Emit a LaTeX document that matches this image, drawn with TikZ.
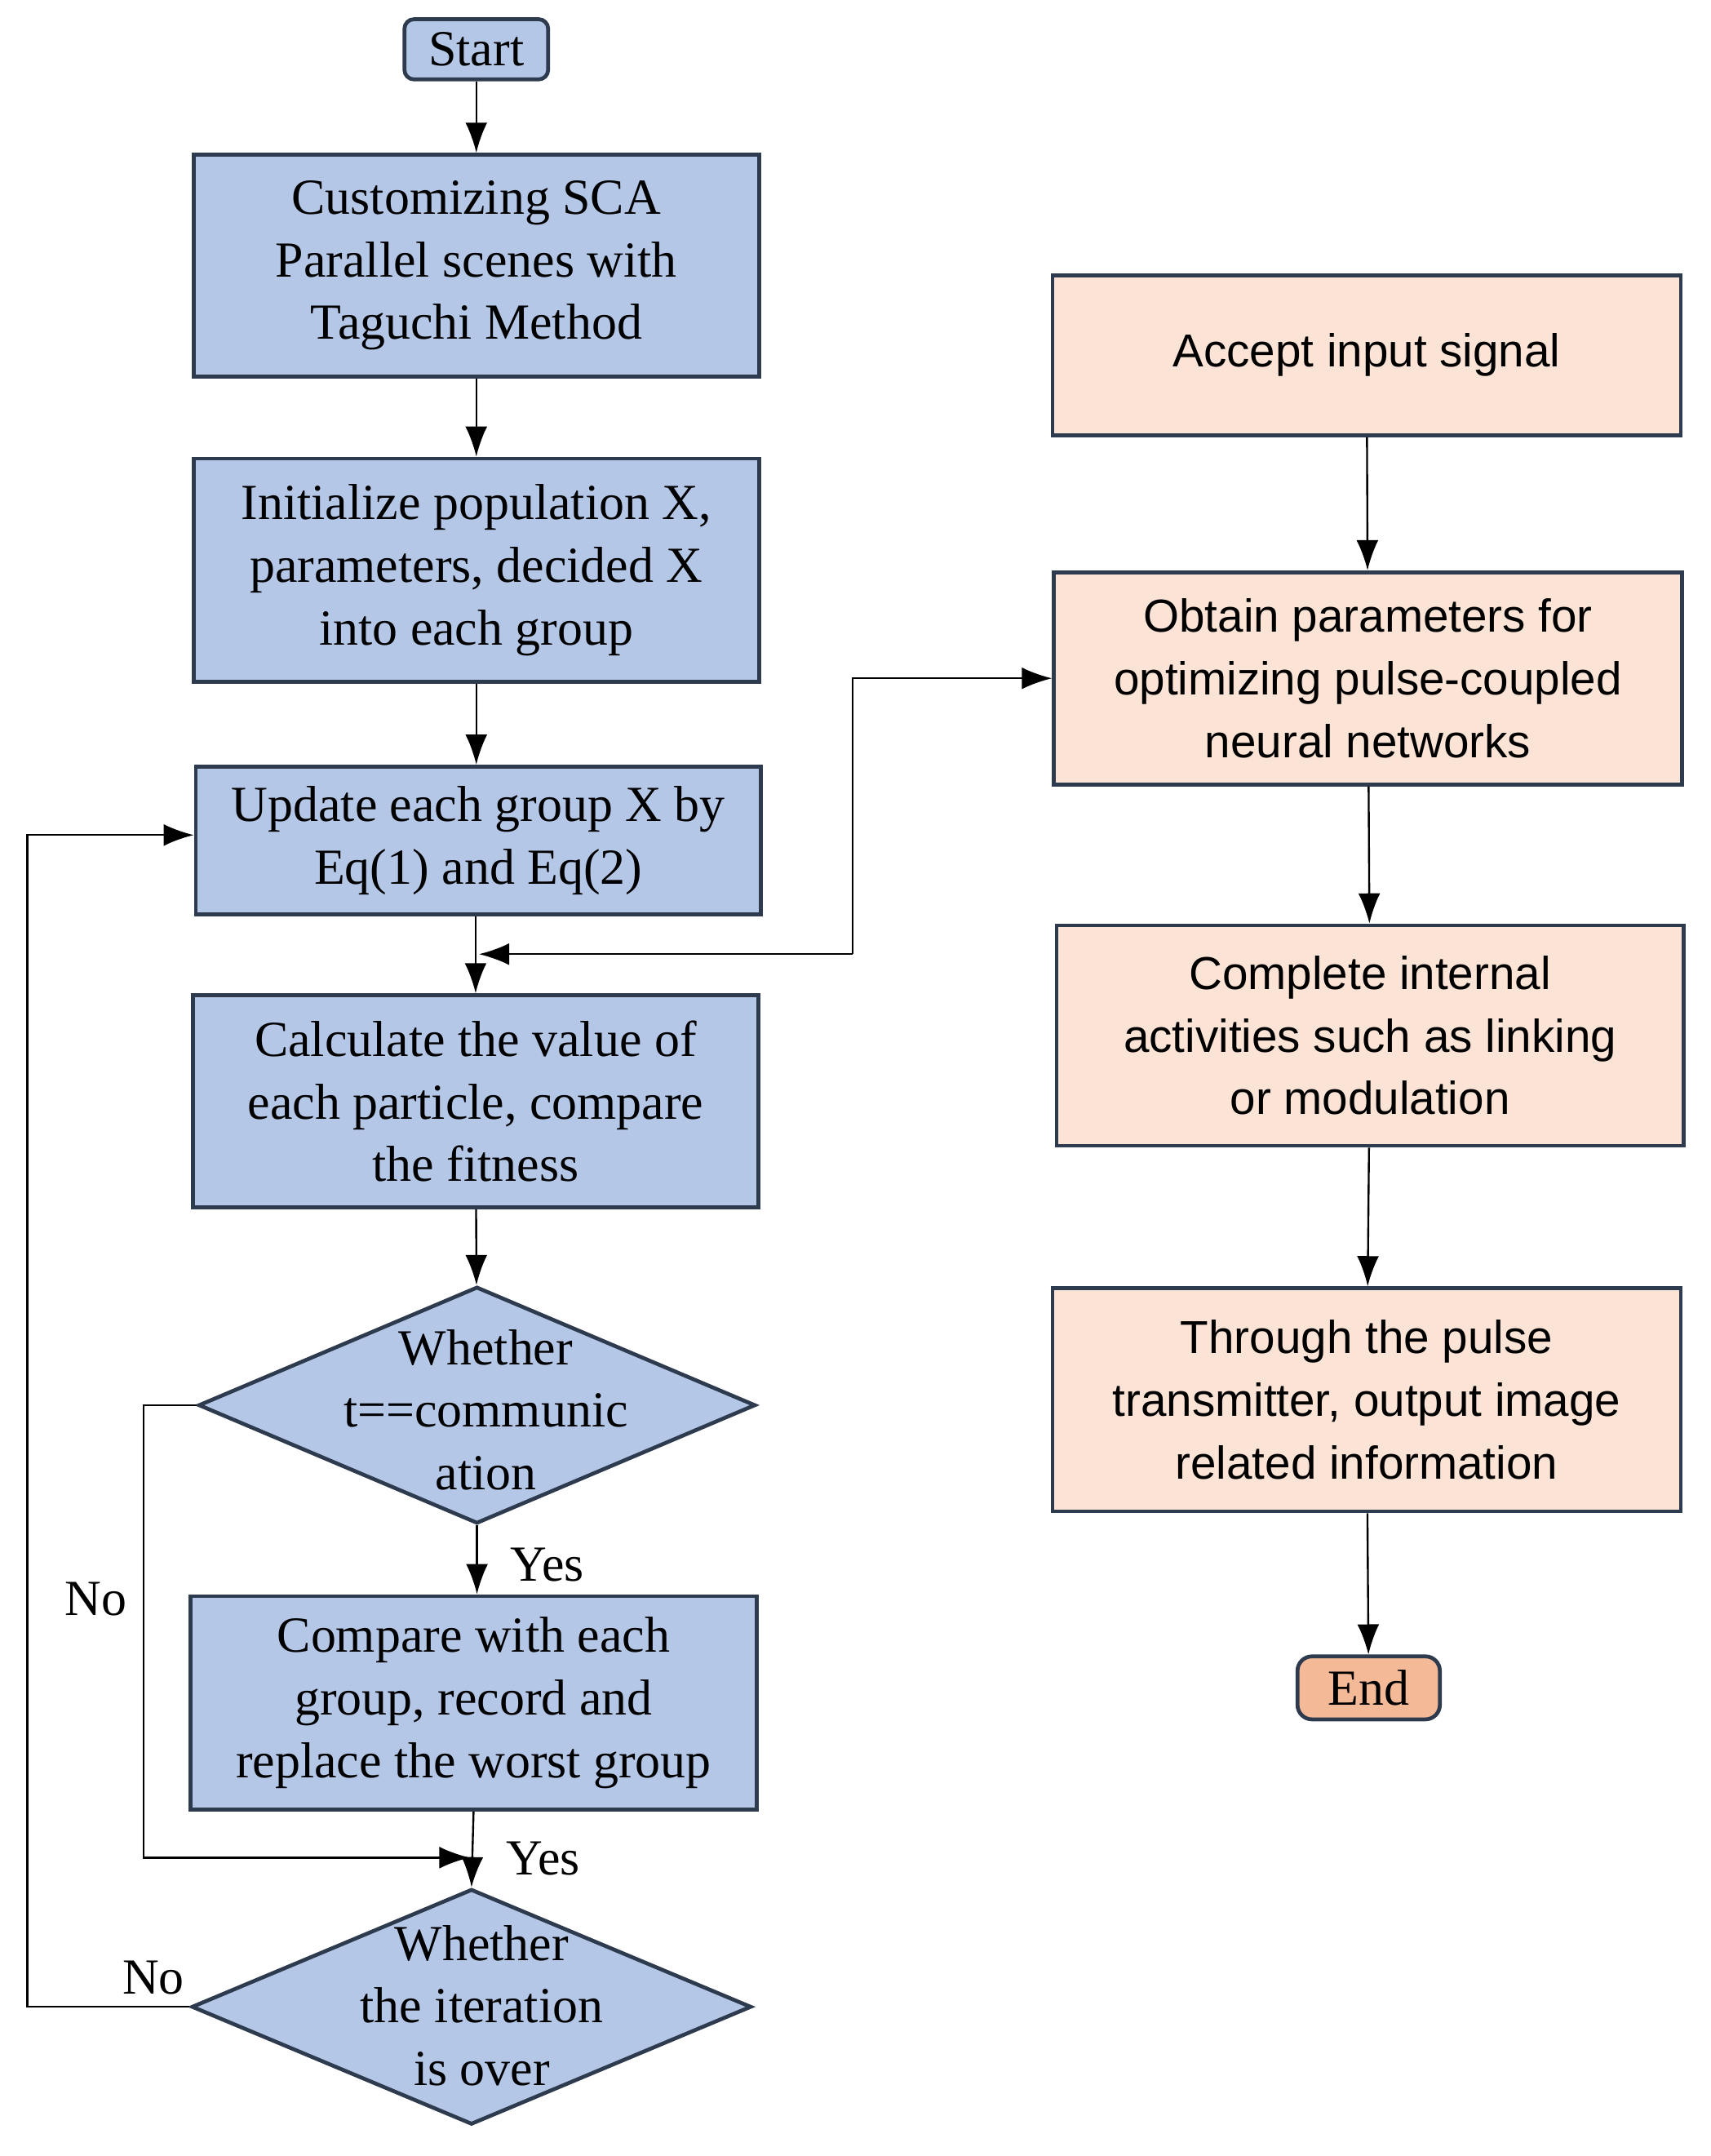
\documentclass[tikz,border=0pt]{standalone}
\usepackage{fontspec}
\setmainfont{Liberation Serif}
\newfontfamily\arialf{Liberation Sans}
\usetikzlibrary{shapes.geometric,arrows.meta}
\definecolor{bfill}{HTML}{B4C7E7}
\definecolor{ofill}{HTML}{FBE3D5}
\definecolor{efill}{HTML}{F4B996}
\definecolor{edge}{HTML}{2E3B4E}
\begin{document}
\begin{tikzpicture}[
  box/.style={draw=edge,line width=0.8pt,fill=bfill,align=center,inner sep=0pt,
    font=\fontsize{10.5}{13}\selectfont},
  rbox/.style={draw=edge,line width=0.8pt,fill=ofill,align=center,inner sep=0pt,
    font=\arialf\fontsize{9.6}{13}\selectfont},
  dia/.style={draw=edge,line width=0.8pt,fill=bfill,diamond,align=center,inner sep=0pt,
    font=\fontsize{10.5}{13}\selectfont},
  arr/.style={-{Latex[length=2.2mm,width=1.6mm]},line width=0.4pt},
  lbl/.style={font=\fontsize{10.5}{13}\selectfont}
]
\useasboundingbox (0,0) rectangle (12.5,-15.75);
% left column
\node[box,rounded corners=2pt,minimum width=1.05cm,minimum height=0.44cm] (s) at (3.48,-0.36) {Start};
\node[box,minimum width=4.13cm,minimum height=1.62cm] (b1) at (3.48,-1.94) {Customizing SCA\\Parallel scenes with\\Taguchi Method};
\node[box,minimum width=4.13cm,minimum height=1.63cm] (b2) at (3.48,-4.165) {Initialize population X,\\parameters, decided X\\into each group};
\node[box,minimum width=4.13cm,minimum height=1.08cm] (b3) at (3.495,-6.14) {Update each group X by\\Eq(1) and Eq(2)};
\node[box,minimum width=4.13cm,minimum height=1.55cm] (b4) at (3.475,-8.045) {Calculate the value of\\each particle, compare\\the fitness};
\node[dia,minimum width=4.07cm,minimum height=1.73cm] (d1) at (3.485,-10.265) {};
\node[lbl,align=center] at (3.55,-10.3) {Whether\\t==communic\\ation};
\node[box,minimum width=4.14cm,minimum height=1.56cm] (b5) at (3.46,-12.44) {Compare with each\\group, record and\\replace the worst group};
\node[dia,minimum width=4.09cm,minimum height=1.72cm] (d2) at (3.445,-14.66) {};
\node[lbl,align=center] at (3.52,-14.65) {Whether\\the iteration\\is over};
% right column
\node[rbox,minimum width=4.59cm,minimum height=1.17cm] (r1) at (9.985,-2.595) {Accept input signal};
\node[rbox,minimum width=4.59cm,minimum height=1.55cm] (r2) at (9.995,-4.955) {Obtain parameters for\\optimizing pulse-coupled\\neural networks};
\node[rbox,minimum width=4.58cm,minimum height=1.61cm] (r3) at (10.01,-7.565) {Complete internal\\activities such as linking\\or modulation};
\node[rbox,minimum width=4.59cm,minimum height=1.63cm] (r4) at (9.985,-10.225) {Through the pulse\\transmitter, output image\\related information};
\node[box,fill=efill,rounded corners=3pt,minimum width=1.04cm,minimum height=0.46cm] (e) at (10.0,-12.33) {End};
% connectors
\draw[arr] (s) -- (b1);
\draw[arr] (b1) -- (b2);
\draw[arr] (b2.south) -- (b3.north -| b2.south);
\draw[arr] (b3.south -| b4.north) -- (b4);
\draw[arr] (b4) -- (d1);
\draw[arr] (d1.south) -- (b5.north -| d1.south);
\coordinate (m) at (3.46,-13.57);
\draw[arr] (b5.south) -- (d2.north);
\draw[arr] (r1) -- (r2);
\draw[arr] (r2) -- (r3);
\draw[arr] (r3) -- (r4);
\draw[arr] (r4) -- (e);
\coordinate (j) at (6.23,-6.97);
\draw[arr] (j) |- (r2.west);
\draw[arr] (j) -- (3.5,-6.97);
\draw[arr] (d1.west) -| (1.05,-13.57) -- (3.43,-13.57);
\draw[arr] (d2.west) -| (0.2,-6.1) -- (b3.west |- 0,-6.1);
% labels
\node[lbl] at (4.0,-11.43) {Yes};
\node[lbl] at (3.97,-13.58) {Yes};
\node[lbl] at (0.7,-11.68) {No};
\node[lbl] at (1.12,-14.45) {No};
\end{tikzpicture}
\end{document}
